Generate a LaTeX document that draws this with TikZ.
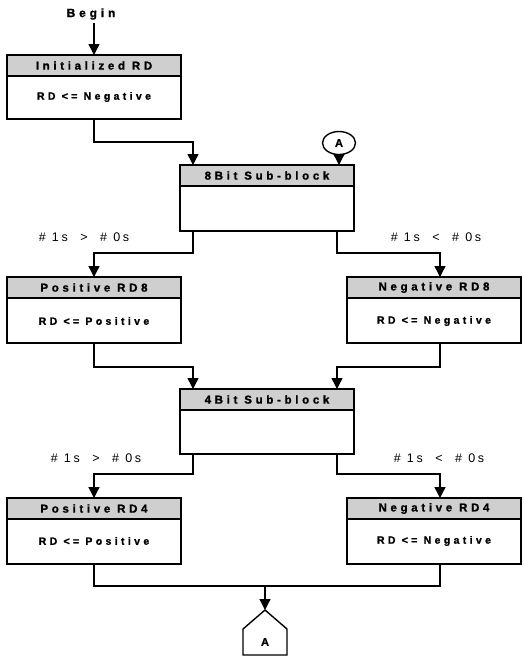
\documentclass[tikz,border=0pt]{standalone}
\usepackage{fontspec}
\setmainfont{Liberation Sans}
\newfontfamily\spacedfont{Liberation Sans Bold}[LetterSpace=32, FakeBold=1.3]
\newfontfamily\widefont{Liberation Sans}[LetterSpace=22]
\newfontfamily\heavyfont{Liberation Sans Bold}[FakeBold=1.3]
\usetikzlibrary{arrows.meta,shapes.geometric,calc}
\begin{document}
\begin{tikzpicture}[x=1pt,y=-1pt,
  every node/.style={inner sep=0pt, outer sep=0pt},
  lw/.style={line width=1.4pt},
  boxframe/.style={draw, lw, minimum width=174, anchor=north west},
  band/.style={draw, lw, fill=gray!38, minimum width=174, minimum height=21, anchor=north west,
    font=\spacedfont\fontsize{11.5}{13}\selectfont},
  bodytxt/.style={font=\spacedfont\fontsize{10.5}{12}\selectfont},
  cond/.style={font=\widefont\fontsize{12.5}{14}\selectfont},
  conn/.style={lw},
  arr/.style={lw, -{Triangle[length=11pt,width=11pt]}},
]
\useasboundingbox (0,0) rectangle (523,657);

% Begin
\node[font=\spacedfont\fontsize{12}{14}\selectfont] (begin) at (91,14) {Begin};
\coordinate (bg) at (94,23);

% Initialized RD
\node[boxframe, minimum height=64] (init) at (7,55) {};
\node[band] (initT) at (7,55) {Initialized RD};
\node[bodytxt] (initB) at (94,97) {RD <= Negative};
\draw[arr] (bg) -- (init.north);

% Circle A
\node[draw, lw, ellipse, minimum width=33, minimum height=23,
  font=\heavyfont\fontsize{11}{12}\selectfont] (cA) at (339,143) {A};

% 8Bit sub-block
\node[boxframe, minimum height=66] (b8) at (180,165) {};
\node[band] (b8T) at (180,165) {8Bit Sub-block};
\coordinate (b8inL) at (193,165);
\coordinate (b8inR) at (339,165);
\coordinate (b8outL) at (193,231);
\coordinate (b8outR) at (337,231);
\draw[arr] (init.south) -- ++(0,23) -| (b8inL);
\draw[arr] (cA.south) -- (b8inR);

% Conditions
\node[cond] (c1) at (84,237) {\# 1s\ \ >\ \ \# 0s};
\node[cond] (c2) at (436,237) {\# 1s\ \ <\ \ \# 0s};

% Positive RD8 / Negative RD8
\node[boxframe, minimum height=66] (p8) at (7,277) {};
\node[band] (p8T) at (7,277) {Positive RD8};
\node[bodytxt] (p8B) at (94,321) {RD <= Positive};
\node[boxframe, minimum height=66] (n8) at (347,277) {};
\node[band] (n8T) at (347,277) {Negative RD8};
\node[bodytxt] (n8B) at (434,321) {RD <= Negative};
\coordinate (p8in) at (94,277);
\coordinate (n8in) at (440,277);
\draw[arr] (b8outL) -- ++(0,22) -| (p8in);
\draw[arr] (b8outR) -- ++(0,22) -| (n8in);

% 4Bit sub-block
\node[boxframe, minimum height=65] (b4) at (180,389) {};
\node[band] (b4T) at (180,389) {4Bit Sub-block};
\coordinate (b4inL) at (193,389);
\coordinate (b4inR) at (337,389);
\coordinate (b4outL) at (193,454);
\coordinate (b4outR) at (337,454);
\coordinate (p8out) at (94,343);
\coordinate (n8out) at (440,343);
\draw[arr] (p8out) -- ++(0,24) -| (b4inL);
\draw[arr] (n8out) -- ++(0,24) -| (b4inR);

\node[cond] (c3) at (96,458) {\# 1s\ \ >\ \ \# 0s};
\node[cond] (c4) at (439,458) {\# 1s\ \ <\ \ \# 0s};

% Positive RD4 / Negative RD4
\node[boxframe, minimum height=66] (p4) at (7,498) {};
\node[band] (p4T) at (7,498) {Positive RD4};
\node[bodytxt] (p4B) at (94,541) {RD <= Positive};
\node[boxframe, minimum height=66] (n4) at (347,498) {};
\node[band] (n4T) at (347,498) {Negative RD4};
\node[bodytxt] (n4B) at (434,541) {RD <= Negative};
\coordinate (p4in) at (94,498);
\coordinate (n4in) at (440,498);
\draw[arr] (b4outL) -- ++(0,20) -| (p4in);
\draw[arr] (b4outR) -- ++(0,20) -| (n4in);

% Bottom merge and off-page connector A
\coordinate (p4out) at (94,564);
\coordinate (n4out) at (440,564);
\coordinate (mrg) at (265,586);
\draw[conn] (p4out) |- (mrg) -| (n4out);
\coordinate (pApex) at (265,610);
\draw[arr] (mrg) -- (pApex);
\draw[lw] (pApex) -- (287,629) -- (287,655) -- (243,655) -- (243,629) -- cycle;
\node[font=\heavyfont\fontsize{11}{12}\selectfont] (pA) at (265,642) {A};
\end{tikzpicture}
\end{document}
